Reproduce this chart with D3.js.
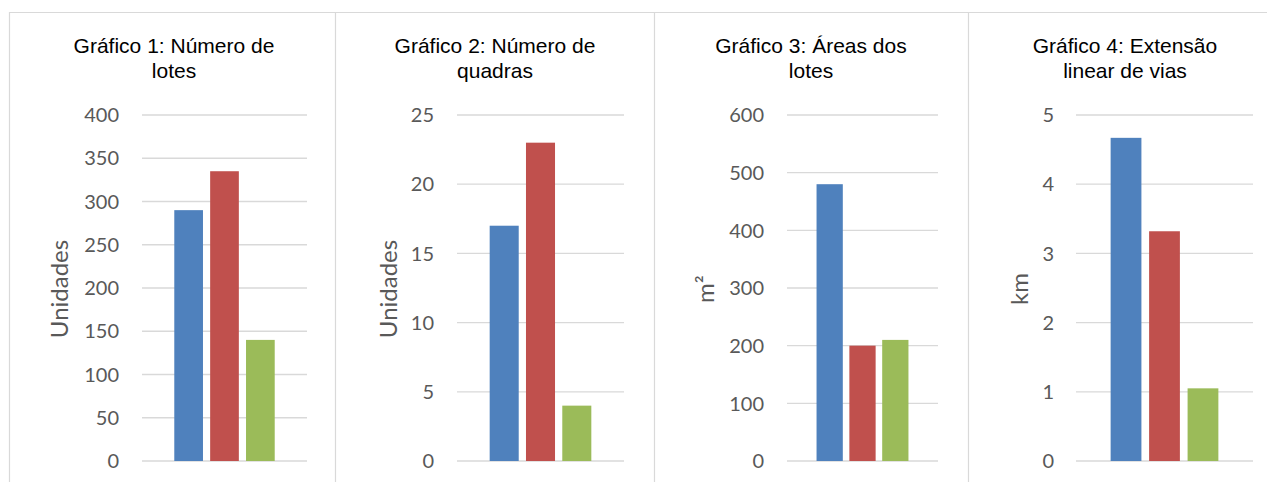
<!DOCTYPE html>
<html lang="pt">
<head>
<meta charset="utf-8">
<title>Gráficos 1–4</title>
<script src="https://cdn.jsdelivr.net/npm/d3@7/dist/d3.min.js"></script>
<style>
  html, body { margin: 0; padding: 0; background: #ffffff; }
  svg { display: block; }
</style>
</head>
<body>
<svg id="chart" width="1267" height="482"></svg>
<script>
// ---- Dados ----
const seriesNames = ["Loteamento A", "Loteamento B", "Loteamento C"];
const chartTitles = [
  ["Gráfico 1: Número de", "lotes"],
  ["Gráfico 2: Número de", "quadras"],
  ["Gráfico 3: Áreas dos", "lotes"],
  ["Gráfico 4: Extensão", "linear de vias"]
];
const axisTitles = ["Unidades", "Unidades", "m²", "km"];
const axisMax = [400, 25, 600, 5];
const axisStep = [50, 5, 100, 1];
const numeroLotes = [290, 335, 140];
const numeroQuadras = [17, 23, 4];
const areasLotes = [480, 200, 210];
const extensaoVias = [4.67, 3.32, 1.05];
const panelValues = [numeroLotes, numeroQuadras, areasLotes, extensaoVias];

// ---- Layout ----
const colors = ["#4F81BD", "#C0504D", "#9BBB59"];
const plotTop = 115, plotBottom = 461;
const borderXs = [9, 335, 654, 968];
const panels = [
  { left: 142, right: 307, tickRight: 119, titleX: 68,   center: 174 },
  { left: 457, right: 624, tickRight: 434, titleX: 397,  center: 495 },
  { left: 787, right: 938, tickRight: 764, titleX: 714,  center: 811 },
  { left: 1076, right: 1253, tickRight: 1054, titleX: 1028, center: 1125 }
];

const svg = d3.select("#chart");

// panel frames
const frame = svg.append("g").attr("stroke", "#d9d9d9").attr("stroke-width", 1.2).attr("fill", "none");
frame.append("line").attr("x1", borderXs[0]).attr("x2", 1267).attr("y1", 12.5).attr("y2", 12.5);
borderXs.forEach(x => {
  frame.append("line").attr("x1", x + 0.5).attr("x2", x + 0.5).attr("y1", 12).attr("y2", 482);
});

panels.forEach((p, i) => {
  const g = svg.append("g");
  const y = d3.scaleLinear().domain([0, axisMax[i]]).range([plotBottom, plotTop]);
  const x = d3.scaleBand().domain(seriesNames).range([p.left, p.right])
    .paddingInner(0.2).paddingOuter(0.9);
  const ticks = d3.range(0, axisMax[i] + axisStep[i] / 2, axisStep[i]);

  // gridlines
  g.append("g").selectAll("line").data(ticks).join("line")
    .attr("x1", p.left).attr("x2", p.right)
    .attr("y1", d => y(d)).attr("y2", d => y(d))
    .attr("stroke", "#d9d9d9").attr("stroke-width", 1.3);

  // tick labels
  g.append("g").selectAll("text").data(ticks).join("text")
    .attr("x", p.tickRight).attr("y", d => y(d)).attr("dy", "0.36em")
    .attr("text-anchor", "end")
    .attr("font-family", "Lato, 'Open Sans', sans-serif")
    .attr("font-size", 20).attr("fill", "#595959")
    .text(d => d3.format("~g")(d));

  // bars
  g.append("g").selectAll("rect").data(panelValues[i].map((v, k) => ({ name: seriesNames[k], v, k })))
    .join("rect")
    .attr("x", d => x(d.name)).attr("width", x.bandwidth())
    .attr("y", d => y(d.v)).attr("height", d => y(0) - y(d.v))
    .attr("fill", d => colors[d.k]);

  // chart title
  const t = g.append("text")
    .attr("text-anchor", "middle")
    .attr("font-family", "'Liberation Sans', Arial, sans-serif")
    .attr("font-size", 21).attr("fill", "#000000");
  chartTitles[i].forEach((line, j) => {
    t.append("tspan").attr("x", p.center).attr("y", 53 + j * 24.5).text(line);
  });

  // axis title
  g.append("text")
    .attr("transform", `translate(${p.titleX},${(plotTop + plotBottom) / 2 + 1}) rotate(-90)`)
    .attr("text-anchor", "middle")
    .attr("font-family", "Lato, 'Open Sans', sans-serif")
    .attr("font-size", 24).attr("fill", "#595959")
    .text(axisTitles[i]);
});
</script>
</body>
</html>
